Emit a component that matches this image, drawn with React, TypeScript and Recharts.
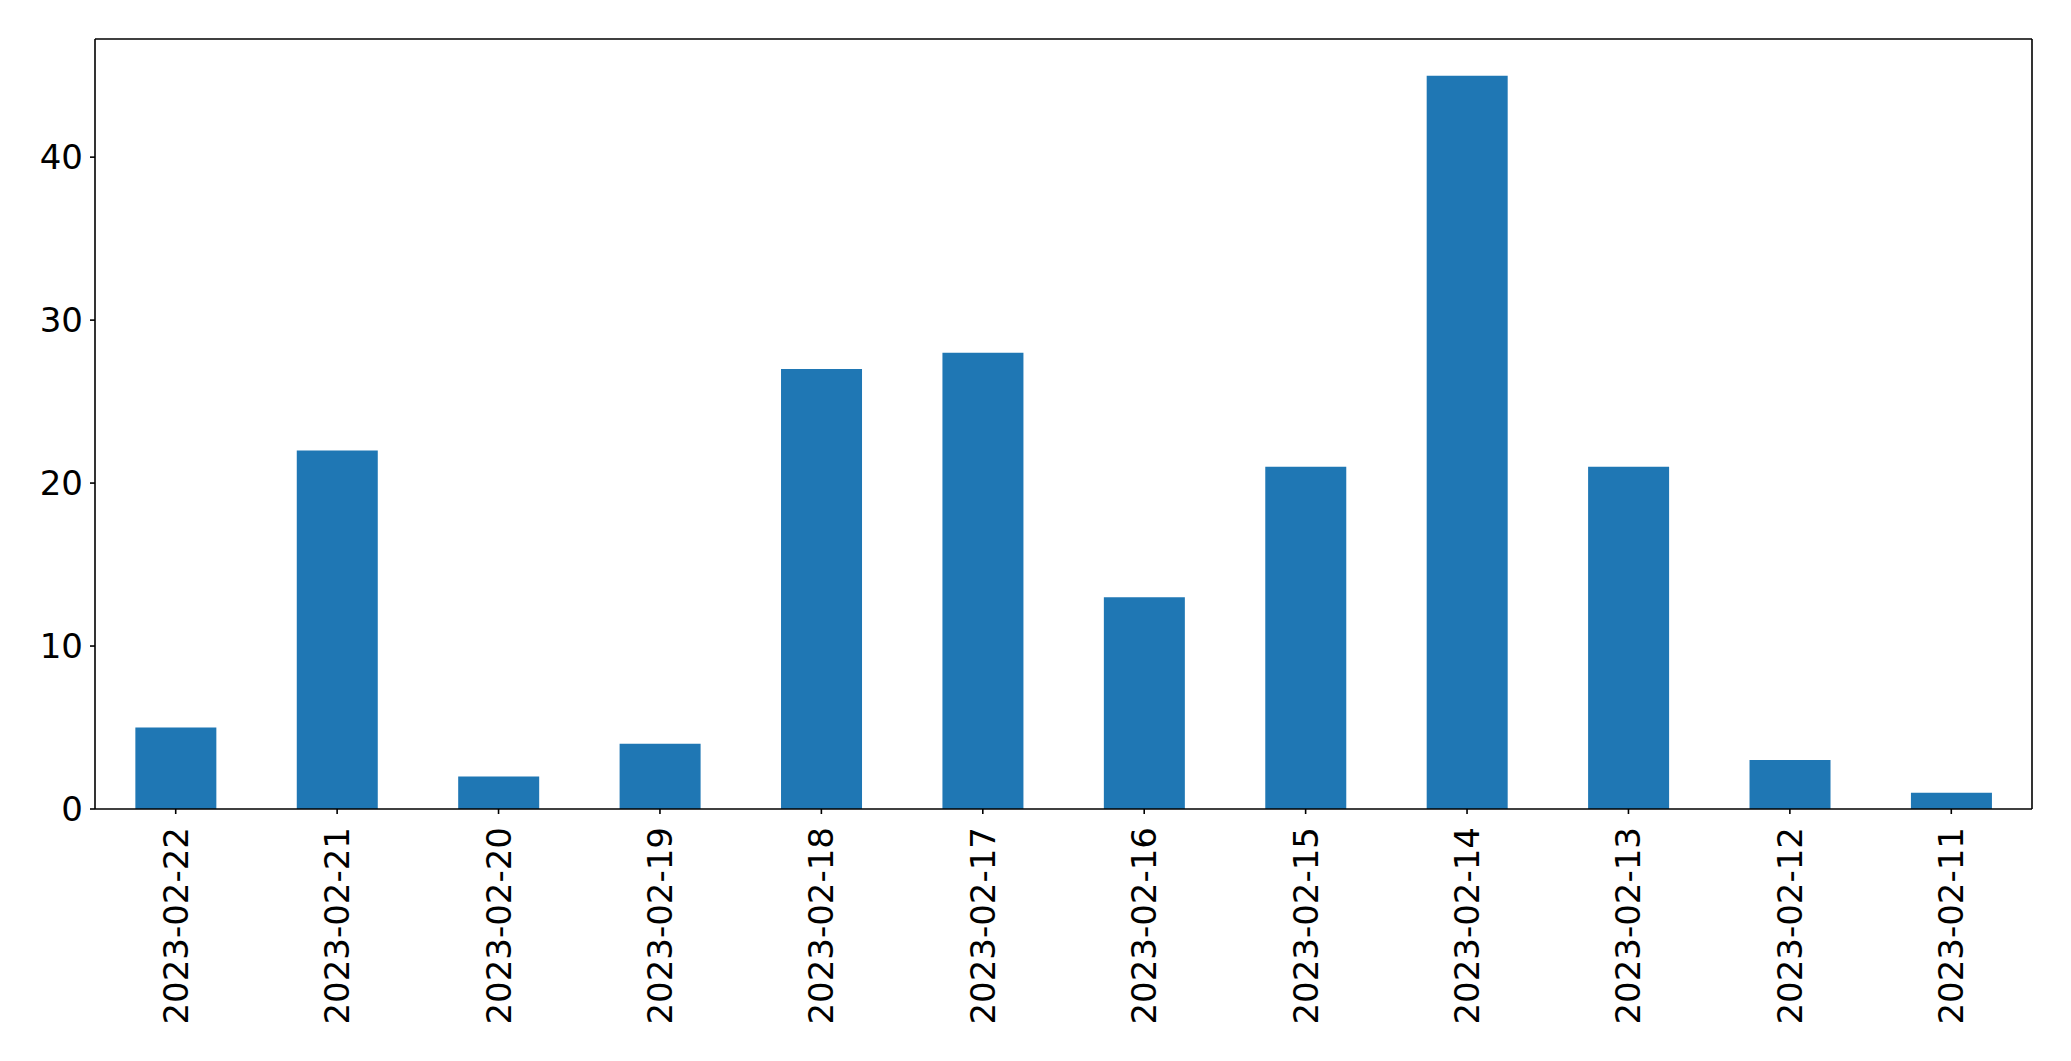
import React from 'react';
import { BarChart, Bar, XAxis, YAxis, ReferenceLine } from 'recharts';

const categories = ['2023-02-22', '2023-02-21', '2023-02-20', '2023-02-19', '2023-02-18', '2023-02-17', '2023-02-16', '2023-02-15', '2023-02-14', '2023-02-13', '2023-02-12', '2023-02-11'];
const counts = [5, 22, 2, 4, 27, 28, 13, 21, 45, 21, 3, 1];
const yTicks = [0, 10, 20, 30, 40];
const yMax = 47.25;

const data = categories.map((c, i) => ({ date: c, count: counts[i] }));

const FONT = 'DejaVu Sans';

const XTick = (props: any) => {
  const { x, y, payload } = props;
  return (
    <text
      x={0}
      y={0}
      transform={`translate(${x},${y + 11}) rotate(-90)`}
      textAnchor="end"
      dominantBaseline="central"
      fontFamily={FONT}
      fontSize={34}
      fill="#000"
    >
      {payload.value}
    </text>
  );
};

export default function App() {
  return (
    <div style={{ position: 'absolute', left: 0, top: 0, background: '#fff' }}>
      <BarChart
        width={2071}
        height={1061}
        data={data}
        margin={{ top: 39, right: 38, left: 0, bottom: 0 }}
        barCategoryGap="25%"
      >
        <XAxis
          dataKey="date"
          height={252}
          interval={0}
          tick={<XTick />}
          tickSize={5}
          axisLine={{ stroke: '#000', strokeWidth: 1.6 }}
          tickLine={{ stroke: '#000', strokeWidth: 1.6 }}
        />
        <YAxis
          width={95}
          domain={[0, yMax]}
          ticks={yTicks}
          interval={0}
          tickSize={5}
          tickMargin={7}
          tick={{ fontFamily: FONT, fontSize: 34, fill: '#000' }}
          axisLine={{ stroke: '#000', strokeWidth: 1.6 }}
          tickLine={{ stroke: '#000', strokeWidth: 1.6 }}
        />
        <YAxis
          yAxisId="right"
          orientation="right"
          width={1}
          domain={[0, yMax]}
          tick={false}
          tickLine={false}
          axisLine={{ stroke: '#000', strokeWidth: 1.6 }}
        />
        <ReferenceLine y={yMax} stroke="#000" strokeWidth={1.6} />
        <Bar dataKey="count" fill="#1f77b4" isAnimationActive={false} />
      </BarChart>
    </div>
  );
}
